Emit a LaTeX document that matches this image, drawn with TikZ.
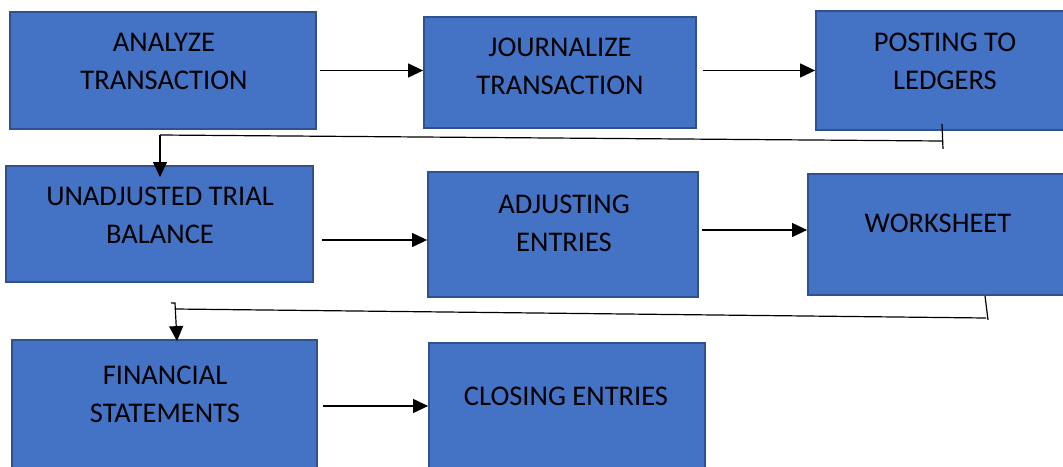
\documentclass[tikz,border=0pt]{standalone}
\usepackage{fontspec}
\setmainfont{Carlito}
\usetikzlibrary{arrows.meta}
\definecolor{stagefill}{HTML}{4472C4}
\definecolor{stageedge}{HTML}{2F528F}
\tikzset{
	stage/.style={draw=stageedge, fill=stagefill, line width=1.8pt, inner sep=0pt},
	stagetext/.style={align=center, inner sep=0pt, font=\fontsize{28.5}{38}\selectfont},
	flow/.style={line width=1.2pt, -{Triangle[length=15pt,width=14pt]}},
	link/.style={line width=1.2pt},
}
\begin{document}
\begin{tikzpicture}[x=1pt,y=-1pt]
	\path[use as bounding box, clip] (0,0) rectangle (1063,466);
	\fill[white] (0,0) rectangle (1063,466);
	% boxes
	\node[stage, minimum width=306pt, minimum height=117pt] (analyze) at (163,70.5) {};
	\node[stage, minimum width=272pt, minimum height=111pt] (journalize) at (560,72.5) {};
	\node[stage, minimum width=258pt, minimum height=119pt] (posting) at (945,70.5) {};
	\node[stage, minimum width=307pt, minimum height=116pt] (unadjusted) at (159.5,224) {};
	\node[stage, minimum width=270pt, minimum height=125pt] (adjusting) at (563,234.5) {};
	\node[stage, minimum width=260pt, minimum height=121pt] (worksheet) at (938,234.5) {};
	\node[stage, minimum width=305pt, minimum height=130pt] (financial) at (164.5,405) {};
	\node[stage, minimum width=276pt, minimum height=126pt] (closing) at (567,406) {};
	% texts
	\node[stagetext] (analyzetext) at (164,61) {ANALYZE\\TRANSACTION};
	\node[stagetext] (journalizetext) at (560,66) {JOURNALIZE\\TRANSACTION};
	\node[stagetext] (postingtext) at (945,61) {POSTING TO\\LEDGERS};
	\node[stagetext] (unadjustedtext) at (160,215) {UNADJUSTED TRIAL\\BALANCE};
	\node[stagetext] (adjustingtext) at (564,223) {ADJUSTING\\ENTRIES};
	\node[stagetext] (worksheettext) at (938,223) {WORKSHEET};
	\node[stagetext] (financialtext) at (165,394) {FINANCIAL\\STATEMENTS};
	\node[stagetext] (closingtext) at (566,396) {CLOSING ENTRIES};
	% arrows along the rows
	\coordinate (rowtwoa) at ([yshift=-5.5pt]adjusting.west);
	\coordinate (rowtwob) at ([yshift=4.5pt]worksheet.west);
	\draw[flow] ([xshift=3pt]analyze.east) -- (analyze.east -| journalize.west);
	\draw[flow] ([xshift=6pt]journalize.east |- posting.west) -- (posting.west);
	\draw[flow] ([xshift=8pt]unadjusted.east |- rowtwoa) -- (rowtwoa);
	\draw[flow] ([xshift=3pt]adjusting.east |- rowtwob) -- (rowtwob);
	\draw[flow] ([xshift=5pt]financial.east |- closing.west) -- (closing.west);
	% return lines
	\coordinate (ledgerturn) at (942,141);
	\coordinate (trialturn) at (160,135);
	\draw[link] ([shift={(-3,-7)}]posting.south) -- ++(1,25);
	\draw[link] (ledgerturn) -- (trialturn);
	\draw[flow] (trialturn) -- ([yshift=-12pt]unadjusted.north -| trialturn);
	\coordinate (sheetturn) at (986,318);
	\coordinate (statementturn) at (175,309);
	\draw[link] ([xshift=47pt]worksheet.south) -- ++(3,24);
	\draw[link] (sheetturn) -- (statementturn);
	\draw[flow] ([shift={(-4,-6)}]statementturn) -- ++(4,0) -- ([shift={(2,2)}]financial.north -| statementturn);
\end{tikzpicture}
\end{document}
